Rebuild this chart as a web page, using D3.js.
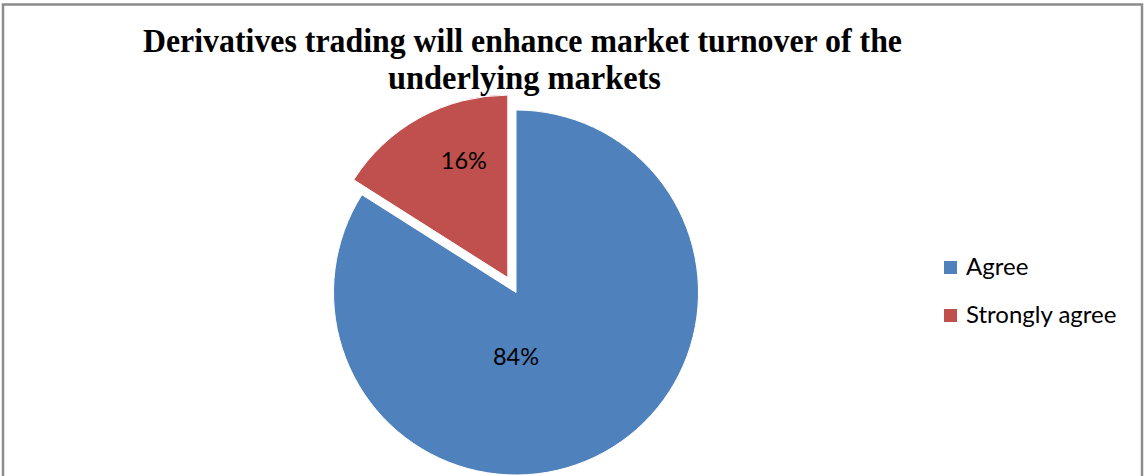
<!DOCTYPE html>
<html>
<head>
<meta charset="utf-8">
<script src="https://cdn.jsdelivr.net/npm/d3@7/dist/d3.min.js"></script>
<style>
  html, body { margin: 0; padding: 0; background: #fff; }
  svg { display: block; }
</style>
</head>
<body>
<svg id="chart" width="1144" height="476"></svg>
<script>
// Survey responses (percent of respondents)
const categories = ["Agree", "Strongly agree"];
const values = [84, 16];
const colors = ["#4F81BD", "#C0504D"];
const titleLines = ["Derivatives trading will enhance market turnover of the", "underlying markets"];

// Layout
const W = 1144, H = 476;
const cx = 516, cy = 292.5, radius = 182.5;
const explode = [0, 17];             // outward shift per slice
const labelOffsets = [[0, 64], [-44, -117]]; // label anchor relative to slice apex

const svg = d3.select("#chart");

// Outer frame
svg.append("rect")
  .attr("x", 3).attr("y", 4.5)
  .attr("width", 1139).attr("height", 490)
  .attr("fill", "#fff")
  .attr("stroke", "#8c8c8c").attr("stroke-width", 2.5);

// Title
const title = svg.append("g")
  .attr("font-family", "'Liberation Serif', 'Times New Roman', serif")
  .attr("font-weight", "bold")
  .attr("font-size", 34)
  .attr("fill", "#000");
title.append("text")
  .attr("x", 143).attr("y", 52)
  .attr("textLength", 759).attr("lengthAdjust", "spacingAndGlyphs")
  .text(titleLines[0]);
title.append("text")
  .attr("x", 388).attr("y", 89)
  .attr("textLength", 273).attr("lengthAdjust", "spacingAndGlyphs")
  .text(titleLines[1]);

// Pie
const pie = d3.pie().sort(null).value(d => d)
  .startAngle(0).endAngle(2 * Math.PI);
const arcs = pie(values);
const arc = d3.arc().innerRadius(0).outerRadius(radius);

const g = svg.append("g").attr("transform", `translate(${cx},${cy})`);

const slices = g.selectAll("g.slice")
  .data(arcs)
  .join("g")
  .attr("class", "slice")
  .attr("transform", (d, i) => {
    const mid = (d.startAngle + d.endAngle) / 2;
    const dx = Math.sin(mid) * explode[i];
    const dy = -Math.cos(mid) * explode[i];
    return `translate(${dx},${dy})`;
  });

slices.append("path")
  .attr("d", arc)
  .attr("fill", (d, i) => colors[i])
  .attr("stroke", "#fff")
  .attr("stroke-width", 1);

slices.append("text")
  .attr("x", (d, i) => labelOffsets[i][0])
  .attr("y", (d, i) => labelOffsets[i][1])
  .attr("dy", "0.36em")
  .attr("text-anchor", "middle")
  .attr("font-family", "Lato, 'Open Sans', sans-serif")
  .attr("font-size", 23.5)
  .attr("fill", "#000")
  .text(d => d.data + "%");

// Legend
const legend = svg.append("g").attr("transform", "translate(944,261)");
const items = legend.selectAll("g")
  .data(categories)
  .join("g")
  .attr("transform", (d, i) => `translate(0,${i * 48})`);
items.append("rect")
  .attr("width", 13).attr("height", 13)
  .attr("fill", (d, i) => colors[i]);
items.append("text")
  .attr("x", 22).attr("y", 14)
  .attr("font-family", "Lato, 'Open Sans', sans-serif")
  .attr("font-size", 24)
  .attr("fill", "#000")
  .text(d => d);
</script>
</body>
</html>
